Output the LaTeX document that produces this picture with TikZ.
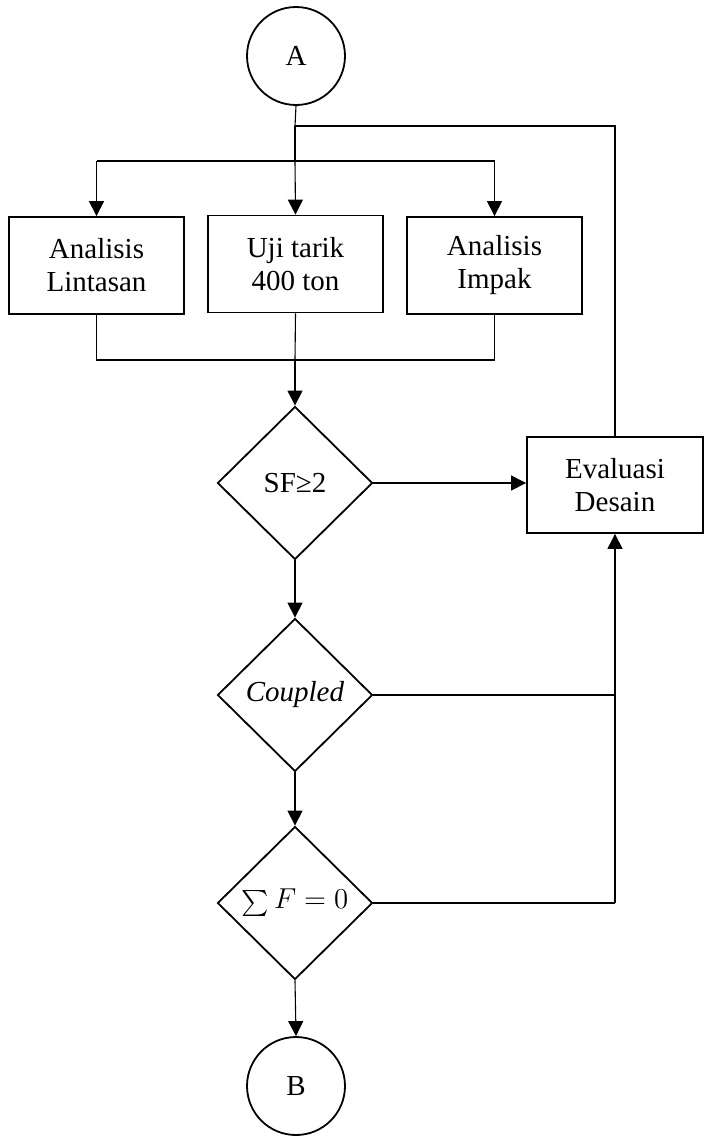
\documentclass[tikz,border=0pt]{standalone}
\usepackage{fontspec}
\usepackage{graphicx}
\setmainfont{Liberation Serif}
\usetikzlibrary{shapes.geometric,arrows.meta}
\newcommand{\bigsigma}{\mathop{\raisebox{-0.15em}{\scalebox{1.3}{$\sum$}}}\nolimits}
\begin{document}
\begin{tikzpicture}[x=0.5pt,y=-0.5pt,
  font=\fontsize{14.5}{16.5}\selectfont,
  box/.style={draw,line width=0.9pt,minimum width=87.5pt,minimum height=48.5pt,align=center,inner sep=0pt},
  decision/.style={diamond,draw,line width=0.9pt,minimum width=77.5pt,minimum height=76.5pt,inner sep=0pt,aspect=1},
  connector/.style={circle,draw,line width=0.9pt,minimum size=49pt,inner sep=0pt},
  link/.style={line width=0.55pt},
  arr/.style={link,-{Triangle[length=7.5pt,width=7.5pt]}}]
\useasboundingbox (0,0) rectangle (704,1136);

% terminals
\node[connector] (A) at (296,56) {A};
\node[connector] (B) at (296,1086) {B};

% parallel analyses
\node[box] (b1) at (96.5,265.5) {Analisis\\Lintasan};
\node[box] (b2) at (295.5,264) {Uji tarik\\400 ton};
\node[box] (b3) at (494.5,265.5) {Analisis\\Impak};

% checks
\node[decision] (d1) at (295,483) {SF≥2};
\node[decision] (d2) at (295,695) {\textit{Coupled}};
\node[decision] (d3) at (295,903) {$\bigsigma F = 0$};

% redesign
\node[box,minimum width=88pt,minimum height=48pt] (ev) at (615,485) {Evaluasi\\Desain};

% fan-out from A
\coordinate (top) at (295,126);
\coordinate (split) at (295,161);
\draw[link] (A.south) -- (top);
\draw[line width=1.1pt] (top) -- (split);
\draw[link] (b1.north |- split) -- (b3.north |- split);
\draw[arr] (b1.north |- split) -- (b1.north);
\draw[arr] (split) -- (b2.north);
\draw[arr] (b3.north |- split) -- (b3.north);

% feedback from evaluation back to the start
\draw[link] (ev.north) |- (top);

% merge into first check
\coordinate (merge) at (295,360);
\draw[link] (b1.south) |- (merge) -| (b3.south);
\draw[link] (b2.south) -- (merge);
\draw[arr] (merge) -- (d1.north);

% main flow
\draw[arr] (d1.east) -- (d1.east -| ev.west);
\draw[arr] (d1.south) -- (d2.north);
\draw[arr] (d2.south) -- (d3.north);
\draw[arr] (d3.south) -- (B.north);

% returns to evaluation
\coordinate (join) at (ev.south |- d3.east);
\draw[link] (d3.east) -- (join);
\draw[arr] (join) -- (ev.south);
\draw[link] (d2.east) -- (d2.east -| join);
\end{tikzpicture}
\end{document}
